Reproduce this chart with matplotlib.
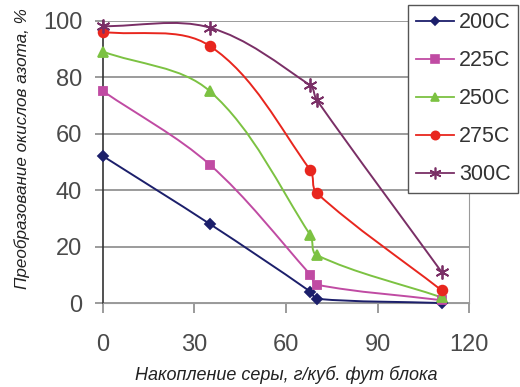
import matplotlib
matplotlib.use("Agg")
import matplotlib.pyplot as plt
import numpy as np
from matplotlib.path import Path
from matplotlib.patches import PathPatch
from matplotlib.lines import Line2D

plt.rcParams['font.family'] = ['Liberation Sans', 'DejaVu Sans']

# data
sulfur = [0, 35, 68, 70, 111]
series_names = ['200C', '225C', '250C', '275C', '300C']
conv_200 = [52, 28, 4, 1.5, 0]
conv_225 = [75, 49, 10, 6.5, 1]
conv_250 = [89, 75, 24, 17, 2]
conv_275 = [96, 91, 47, 39, 4.5]
conv_300 = [98, 97.5, 77, 72, 11]
x_ticks = [0, 30, 60, 90, 120]
y_ticks = [0, 20, 40, 60, 80, 100]

all_series = [conv_200, conv_225, conv_250, conv_275, conv_300]
colors = ['#1c1f6b', '#c04ba3', '#7cc242', '#e8261e', '#7a2f66']
markers = ['D', 's', '^', 'o', (6, 2, 0)]
msizes = [5, 6, 7, 7, 10]

fig = plt.figure(figsize=(5.2, 3.87), dpi=100)
ax = fig.add_axes([0.198, 0.217, 0.704, 0.730])
ax.set_xlim(0, 120)
ax.set_ylim(0, 100)

# pixel-ish scale so the smoothing looks like Excel's
sx, sy = 3.05, 2.825


def smooth_path(xs, ys):
    pts = np.column_stack([np.array(xs, float) * sx, np.array(ys, float) * sy])
    n = len(pts)
    tang = []
    for i in range(n):
        a = pts[max(i - 1, 0)]
        b = pts[min(i + 1, n - 1)]
        d = b - a
        tang.append(d / np.hypot(*d))
    verts = [pts[0]]
    codes = [Path.MOVETO]
    for i in range(n - 1):
        seg = np.hypot(*(pts[i + 1] - pts[i]))
        c1 = pts[i] + tang[i] * seg / 3
        c2 = pts[i + 1] - tang[i + 1] * seg / 3
        verts += [c1, c2, pts[i + 1]]
        codes += [Path.CURVE4] * 3
    verts = np.array(verts) / np.array([sx, sy])
    return Path(verts, codes)


for vals, col, mk, ms in zip(all_series, colors, markers, msizes):
    patch = PathPatch(smooth_path(sulfur, vals), fill=False, edgecolor=col,
                      lw=1.4, zorder=3, clip_on=False)
    ax.add_patch(patch)
    ax.plot(sulfur, vals, linestyle='none', marker=mk, color=col, ms=ms,
            mew=1.3, zorder=4, clip_on=False)

ax.set_xticks(x_ticks)
ax.set_yticks(y_ticks)
ax.grid(axis='y', color='#8a8a8a', lw=1.2)
ax.set_axisbelow(True)
for side in ['top', 'right', 'bottom']:
    ax.spines[side].set_color('#9a9a9a')
ax.spines['top'].set_visible(False)
ax.spines['left'].set_color('#333333')
ax.spines['left'].set_linewidth(1.2)
ax.tick_params(axis='y', length=6, color='#8a8a8a', width=1.2, labelsize=17,
               labelcolor='#4a4a4a', pad=9)
ax.tick_params(axis='x', length=7, color='#8a8a8a', width=1.2, labelsize=17,
               labelcolor='#4a4a4a', pad=15)

ax.set_xlabel('Накопление серы, г/куб. фут блока', fontsize=13, style='italic',
              color='#222222')
ax.xaxis.set_label_coords(0.5, -0.222)
ax.set_ylabel('Преобразование окислов азота, %', fontsize=12.3, style='italic',
              color='#222222')
ax.yaxis.set_label_coords(-0.2, 0.545)

handles = [Line2D([], [], color=c, marker=m, ms=s * 0.85, lw=1.3, mew=1.2)
           for c, m, s in zip(colors, markers, msizes)]
leg = fig.legend(handles, series_names, loc='upper left',
                 bbox_to_anchor=(0.785, 0.988), fontsize=15.5, frameon=True,
                 fancybox=False, edgecolor='#555555', framealpha=1,
                 handlelength=1.8, handletextpad=0.2, labelspacing=0.79,
                 borderpad=0.35, borderaxespad=0)
leg.get_frame().set_linewidth(1.0)
leg.set_zorder(10)
for t in leg.get_texts():
    t.set_color('#333333')

fig.savefig('out.png', dpi=100)
